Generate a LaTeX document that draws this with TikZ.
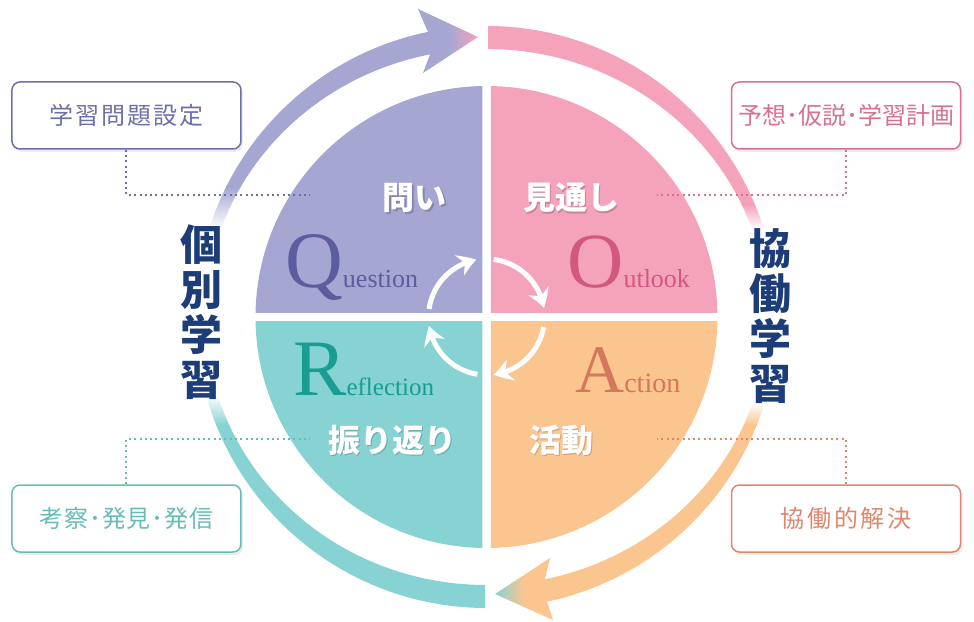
\documentclass[tikz,border=0pt]{standalone}
\usepackage{fontspec}
\newfontfamily\jp{Noto Sans CJK JP}
\newfontfamily\lat{Liberation Serif}
\usetikzlibrary{arrows.meta,bending,shadows}
\definecolor{qpur}{HTML}{A5A7D2}
\definecolor{opink}{HTML}{F5A3BB}
\definecolor{aora}{HTML}{FBC590}
\definecolor{rteal}{HTML}{87D2D2}
\definecolor{qtxt}{HTML}{6C70AA}
\definecolor{otxt}{HTML}{D9708F}
\definecolor{atxt}{HTML}{E0866C}
\definecolor{rtxt}{HTML}{68BCB7}
\definecolor{qbig}{HTML}{5B5D9E}
\definecolor{obig}{HTML}{D3587F}
\definecolor{abig}{HTML}{D5775A}
\definecolor{rbig}{HTML}{199C91}
\definecolor{navy}{HTML}{1D3D78}
\newcommand{\ringpath}{(291,0) arc[start angle=0,end angle=360,radius=291] -- cycle (281,0) arc[start angle=360,end angle=0,x radius=281,y radius=268] -- cycle}
\begin{document}
\begin{tikzpicture}[x=1pt,y=1pt,
  infobox/.style={draw=#1, line width=1.5pt, rounded corners=8pt, fill=white,
    minimum width=229pt, minimum height=67pt, text=#1, inner sep=0pt,
    font=\jp\fontsize{24}{24}\selectfont,
    drop shadow={opacity=0.15, shadow xshift=2pt, shadow yshift=-3pt}},
  dotline/.style={draw=#1, line width=2pt, dash pattern=on 2pt off 3.3pt},
  sidelab/.style={text=navy, align=center, inner sep=0pt,
    font=\jp\bfseries\fontsize{42}{45}\selectfont},
  qlab/.style={text=white, inner sep=0pt, font=\jp\bfseries\fontsize{32}{32}\selectfont},
  qshadow/.style={text=black, opacity=0.18, inner sep=0pt, font=\jp\bfseries\fontsize{32}{32}\selectfont},
  bigword/.style={anchor=base west, inner sep=0pt, font=\lat},
  cyc/.style={white, line width=5pt, -{Stealth[length=18pt,width=22pt,inset=6pt,bend]}}
]
\useasboundingbox (-486.5,-304) rectangle (487.5,317);

% quadrants
\begin{scope}\clip (-300,4.25) rectangle (-4.25,300); \fill[qpur] (0,0) circle[radius=231]; \end{scope}
\begin{scope}\clip (4.25,4.25) rectangle (300,300); \fill[opink] (0,0) circle[radius=231]; \end{scope}
\begin{scope}\clip (4.25,-4.25) rectangle (300,-300); \fill[aora] (0,0) circle[radius=231]; \end{scope}
\begin{scope}\clip (-300,-4.25) rectangle (-4.25,-300); \fill[rteal] (0,0) circle[radius=231]; \end{scope}

% outer ring segments
\begin{scope}
  \clip (-400,0) rectangle (-56.5,400);
  \clip \ringpath;
  \fill[qpur] (-400,130) rectangle (0,400);
  \shade[top color=qpur,bottom color=white] (-400,88) rectangle (0,130);
\end{scope}
\begin{scope}
  \clip (1.5,0) rectangle (400,400);
  \clip \ringpath;
  \fill[opink] (0,112) rectangle (400,400);
  \shade[top color=opink,bottom color=white] (0,88) rectangle (400,112);
\end{scope}
\begin{scope}
  \clip (58.5,0) rectangle (400,-400);
  \clip \ringpath;
  \fill[aora] (0,-108) rectangle (400,-400);
  \shade[top color=white,bottom color=aora] (0,-108) rectangle (400,-86);
\end{scope}
\begin{scope}
  \clip (-1.5,0) rectangle (-400,-400);
  \clip \ringpath;
  \fill[rteal] (-400,-108) rectangle (0,-400);
  \shade[top color=white,bottom color=rteal] (-400,-108) rectangle (0,-78);
\end{scope}

% arrowheads
\shade[left color=qpur, right color=opink, middle color=qpur]
  (-8.5,280) -- (-68.5,308) -- (-58.5,285) -- (-56.5,262.5) -- (-63.5,244) -- cycle;
\shade[left color=rteal, right color=aora, middle color=aora]
  (8.5,-277) -- (63.5,-241) -- (58.5,-262.1) -- (60.5,-284.6) -- (66.5,-303) -- cycle;

% side labels
\node[sidelab] (kobetsu) at (-284.5,4.5) {個\\別\\学\\習};
\node[sidelab] (kyodo) at (283.5,0.5) {協\\働\\学\\習};

% quadrant labels
\node[qshadow] (toi-s) at (-70,117.5) {問い};
\node[qlab] (toi) at (-71.5,119) {問い};
\node[qshadow] (mito-s) at (86,117.5) {見通し};
\node[qlab] (mito) at (84.5,119) {見通し};
\node[qshadow] (furi-s) at (-92.5,-124.5) {振り返り};
\node[qlab] (furi) at (-94,-123) {振り返り};
\node[qshadow] (katsu-s) at (76,-124.5) {活動};
\node[qlab] (katsu) at (74.5,-123) {活動};

% big words
\node[bigword, text=qbig] (question) at (-201.5,30) {\fontsize{80}{80}\selectfont Q\fontsize{26}{26}\selectfont uestion};
\node[bigword, text=obig] (outlook) at (80.5,30) {\fontsize{78}{78}\selectfont O\fontsize{26}{26}\selectfont utlook};
\node[bigword, text=abig] (action) at (88.5,-75) {\fontsize{68}{68}\selectfont A\fontsize{28}{28}\selectfont ction};
\node[bigword, text=rbig] (reflection) at (-193.5,-78) {\fontsize{80}{80}\selectfont R\fontsize{25}{25}\selectfont eflection};

% central cycle arrows
\coordinate (c1) at (172:58);
\coordinate (c2) at (83:58);
\coordinate (c3) at (-10:58);
\coordinate (c4) at (-99:58);
\draw[cyc] (c1) arc[start angle=172,end angle=100,radius=58];
\draw[cyc] (c2) arc[start angle=83,end angle=9,radius=58];
\draw[cyc] (c3) arc[start angle=-10,end angle=-83,radius=58];
\draw[cyc] (c4) arc[start angle=-99,end angle=-171,radius=58];

% boxes
\node[infobox=qtxt] (b1) at (-360,201.5) {\addfontfeatures{LetterSpace=9}学習問題設定};
\node[infobox=otxt] (b2) at (359.5,201.5) {予想･仮説･学習計画};
\node[infobox=rtxt] (b3) at (-360,-201.5) {\addfontfeatures{LetterSpace=4}考察･発見･発信};
\node[infobox=atxt] (b4) at (359.5,-201.5) {\addfontfeatures{LetterSpace=11}協働的解決};

% dotted leaders
\coordinate (e1) at (-176.5,122);
\coordinate (e2) at (170.5,122);
\coordinate (e3) at (-176.5,-122);
\coordinate (e4) at (170.5,-122);
\draw[dotline=qtxt] (b1.south) |- (e1);
\draw[dotline=otxt] (b2.south) |- (e2);
\draw[dotline=rtxt] (b3.north) |- (e3);
\draw[dotline=atxt] (b4.north) |- (e4);
\end{tikzpicture}
\end{document}
